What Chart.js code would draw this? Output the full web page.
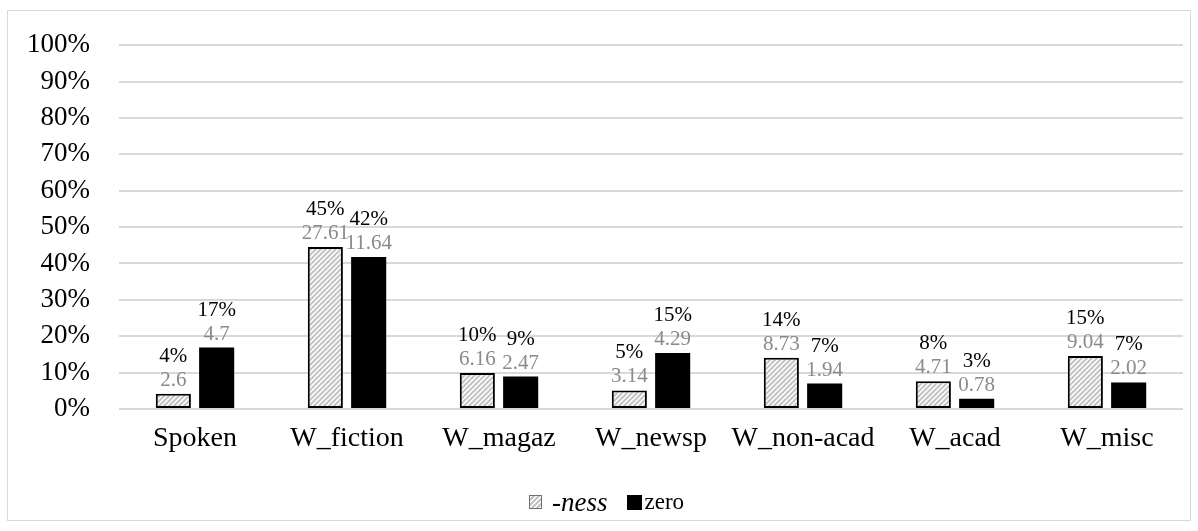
<!DOCTYPE html>
<html>
<head>
<meta charset="utf-8">
<script src="https://cdn.jsdelivr.net/npm/chart.js@4/dist/chart.umd.min.js"></script>
<style>
  html, body { margin: 0; padding: 0; background: #fff; }
  #wrap { position: relative; width: 1198px; height: 531px; }
  #frame { position: absolute; left: 7px; top: 10px; width: 1182px; height: 509px; border: 1px solid #d9d9d9; }
  #c { position: absolute; left: 0; top: 0; }
  #legend { position: absolute; left: 529px; top: 488px; height: 28px; display: flex; align-items: center;
            font-family: "Liberation Serif", "Times New Roman", serif; color: #000; }
  .sw { box-sizing: border-box; display: inline-block; }
  .sw.ness { width: 13px; height: 14px; border: 1px solid #6f6f6f; margin-right: 10px;
             background: repeating-linear-gradient(-45deg, #fff 0 1.6px, #c4c4c4 1.6px 3.6px); }
  .t-ness { font-size: 27px; font-style: italic; }
  .sw.zero { background: #000; width: 15px; height: 15px; margin-left: 19px; margin-right: 3px; }
  .t-zero { font-size: 23px; }
</style>
</head>
<body>
<div id="wrap">
  <div id="frame"></div>
  <canvas id="c" width="1198" height="531"></canvas>
  <div id="legend">
    <span class="sw ness"></span><span class="t-ness">-ness</span>
    <span class="sw zero"></span><span class="t-zero">zero</span>
  </div>
</div>
<script>
// Register / genre categories
const categories = ['Spoken', 'W_fiction', 'W_magaz', 'W_newsp', 'W_non-acad', 'W_acad', 'W_misc'];
// Share of each suffix type per register (%)
const nessShare = [4.2, 44.5, 9.9, 5.1, 14.1, 7.6, 14.6];
const zeroShare = [16.9, 41.8, 8.9, 15.4, 7.0, 2.8, 7.3];
// Normalised frequencies shown under the percentages
const nessFreq = ['2.6', '27.61', '6.16', '3.14', '8.73', '4.71', '9.04'];
const zeroFreq = ['4.7', '11.64', '2.47', '4.29', '1.94', '0.78', '2.02'];
// Y axis ticks
const yTicks = [0, 10, 20, 30, 40, 50, 60, 70, 80, 90, 100];

const SERIF = '"Liberation Serif", "Times New Roman", serif';

// Diagonal hatch fill for the -ness bars
function makeHatch() {
  const p = document.createElement('canvas');
  p.width = 5; p.height = 5;
  const g = p.getContext('2d');
  g.fillStyle = '#fff';
  g.fillRect(0, 0, 5, 5);
  g.strokeStyle = '#c4c4c4';
  g.lineWidth = 2;
  g.beginPath();
  g.moveTo(-1, 6); g.lineTo(6, -1);
  g.moveTo(-4, 4); g.lineTo(4, -4);
  g.moveTo(1, 9); g.lineTo(9, 1);
  g.stroke();
  return g.createPattern(p, 'repeat');
}

const ctx = document.getElementById('c').getContext('2d');
const hatch = makeHatch();

// Two-line labels above each bar: percentage, then frequency in grey
const barLabels = {
  id: 'barLabels',
  afterDatasetsDraw(chart) {
    const c = chart.ctx;
    const freqs = [nessFreq, zeroFreq];
    c.save();
    c.textAlign = 'center';
    c.textBaseline = 'alphabetic';
    c.font = '21px ' + SERIF;
    chart.data.datasets.forEach((ds, di) => {
      const meta = chart.getDatasetMeta(di);
      meta.data.forEach((bar, i) => {
        const top = bar.y;
        c.fillStyle = '#8a8a8a';
        c.fillText(freqs[di][i], bar.x, top - 8);
        c.fillStyle = '#000';
        c.fillText(Math.round(ds.data[i]) + '%', bar.x, top - 32);
      });
    });
    c.restore();
  }
};

new Chart(ctx, {
  type: 'bar',
  data: {
    labels: categories,
    datasets: [
      {
        label: '-ness',
        data: nessShare,
        backgroundColor: hatch,
        borderColor: '#000',
        borderWidth: 2,
        borderSkipped: false,
        categoryPercentage: 0.57,
        barPercentage: 0.81
      },
      {
        label: 'zero',
        data: zeroShare,
        backgroundColor: '#000',
        borderWidth: 0,
        categoryPercentage: 0.57,
        barPercentage: 0.81
      }
    ]
  },
  options: {
    responsive: false,
    animation: false,
    layout: { padding: { left: 0, right: 15, top: 28, bottom: 0 } },
    plugins: {
      legend: { display: false },
      tooltip: { enabled: false }
    },
    scales: {
      x: {
        grid: { display: false, drawTicks: false },
        border: { display: false },
        ticks: { color: '#000', font: { family: SERIF, size: 28 }, padding: 13, maxRotation: 0 },
        afterFit(s) { s.height = 122; }
      },
      y: {
        min: 0, max: 100,
        afterBuildTicks(s) { s.ticks = yTicks.map(v => ({ value: v })); },
        grid: { color: '#d9d9d9', lineWidth: 2, drawTicks: false },
        border: { display: false },
        ticks: { color: '#000', font: { family: SERIF, size: 27 }, padding: 29, callback: v => v + '%' },
        afterFit(s) { s.width = 119; }
      }
    }
  },
  plugins: [barLabels]
});
</script>
</body>
</html>
